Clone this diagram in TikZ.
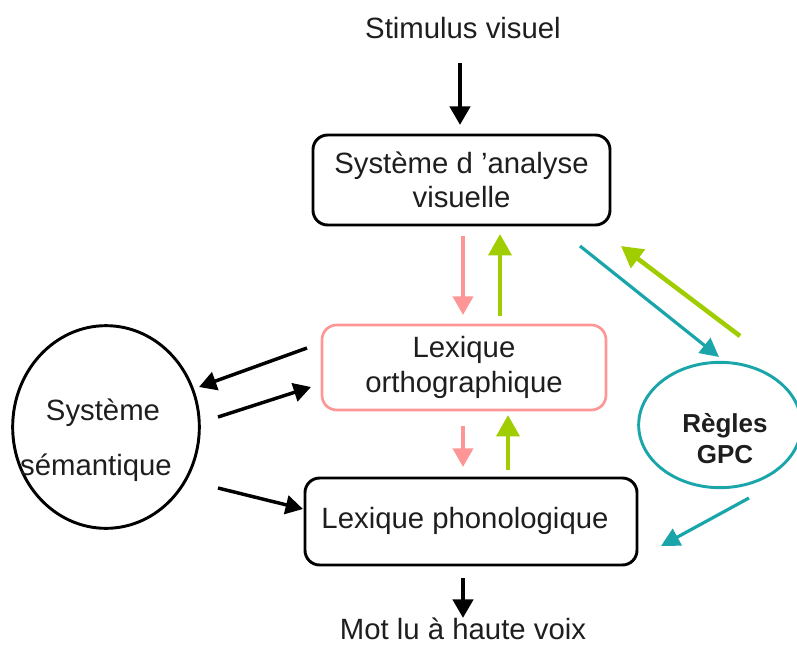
\documentclass[tikz,border=0pt]{standalone}
\usepackage{fontspec}
\setmainfont{Liberation Sans}
\usetikzlibrary{arrows.meta,shapes.geometric}
\definecolor{rose}{RGB}{255,150,150}
\definecolor{lime}{RGB}{160,205,0}
\definecolor{gpcteal}{RGB}{25,165,170}
\definecolor{ink}{RGB}{30,30,30}

\tikzset{
  lbl/.style={font=\fontsize{22}{26}\selectfont, text=ink, align=center},
  gpclbl/.style={font=\fontsize{19.5}{23}\selectfont\bfseries, text=ink},
  boxnode/.style={draw=black, line width=2.2pt, rounded corners=11pt, lbl},
  pinkbox/.style={draw=rose, line width=2pt, rounded corners=11pt, lbl},
  blackarrow/.style={draw=black, line width=2.6pt, -{Triangle[width=14pt,length=13pt]}},
  mainarrow/.style={draw=black, line width=3.4pt, -{Triangle[width=15pt,length=14pt]}},
  pinkarrow/.style={draw=rose, line width=3pt, -{Triangle[width=15pt,length=14pt]}},
  limearrow/.style={draw=lime, line width=3.4pt, -{Triangle[width=17pt,length=16pt]}},
  tealarrow/.style={draw=gpcteal, line width=2.4pt, -{Triangle[width=14pt,length=14pt]}},
}

\begin{document}
\begin{tikzpicture}[x=0.75pt,y=-0.75pt]
\useasboundingbox (0,0) rectangle (797,644);

% texts at top and bottom
\node[lbl, anchor=base] (stim) at (463,38) {Stimulus visuel};
\node[lbl, anchor=base] (mot) at (463,639) {Mot lu à haute voix};

% the three processing boxes
\node[boxnode, minimum width=222.75pt, minimum height=67.5pt] (sav) at (461.5,180)
  {Système d ’analyse\\visuelle};
\node[pinkbox, minimum width=213pt, minimum height=63.75pt] (lo) at (464,367.5)
  {Lexique\\orthographique};
\node[boxnode, minimum width=249pt, minimum height=65.25pt] (lp) at (471,521.5) {};
\node[lbl] (lptext) at (465,521) {Lexique phonologique};

% semantic system and grapheme-phoneme rules
\node[ellipse, draw=black, line width=2.2pt, minimum width=140pt, minimum height=152pt] (sem) at (106,427) {};
\node[lbl, anchor=base] (semA) at (103,420) {Système};
\node[lbl, anchor=base] (semB) at (96,475) {sémantique};

\node[ellipse, draw=gpcteal, line width=2.2pt, minimum width=122pt, minimum height=94pt] (gpc) at (720,425) {};
\node[gpclbl, anchor=base] (gpcA) at (725,432) {Règles};
\node[gpclbl, anchor=base] (gpcB) at (725,463) {GPC};

% arrow end points
\coordinate (s1) at (460,63);   \coordinate (s2) at (460,125);
\coordinate (p1) at (463,236);  \coordinate (p2) at (463,315);
\coordinate (g1) at (500,316);  \coordinate (g2) at (500,234);
\coordinate (p3) at (463,426);  \coordinate (p4) at (463,467);
\coordinate (g3) at (508,470);  \coordinate (g4) at (508,415);
\coordinate (m1) at (463,578);  \coordinate (m2) at (463,618);
\coordinate (a1) at (307,348);  \coordinate (a2) at (199,387);
\coordinate (b1) at (218,417);  \coordinate (b2) at (311,387);
\coordinate (c1) at (218,488);  \coordinate (c2) at (303,509);
\coordinate (t1) at (580,246);  \coordinate (t2) at (719,357);
\coordinate (l1) at (740,336);  \coordinate (l2) at (621,246);
\coordinate (t3) at (749,498);  \coordinate (t4) at (661,546);

% connectors
\draw[mainarrow] (s1) -- (s2);
\draw[pinkarrow] (p1) -- (p2);
\draw[limearrow] (g1) -- (g2);
\draw[pinkarrow] (p3) -- (p4);
\draw[limearrow] (g3) -- (g4);
\draw[mainarrow] (m1) -- (m2);
\draw[blackarrow] (a1) -- (a2);
\draw[blackarrow] (b1) -- (b2);
\draw[blackarrow] (c1) -- (c2);
\draw[tealarrow] (t1) -- (t2);
\draw[limearrow] (l1) -- (l2);
\draw[tealarrow] (t3) -- (t4);
\end{tikzpicture}
\end{document}
